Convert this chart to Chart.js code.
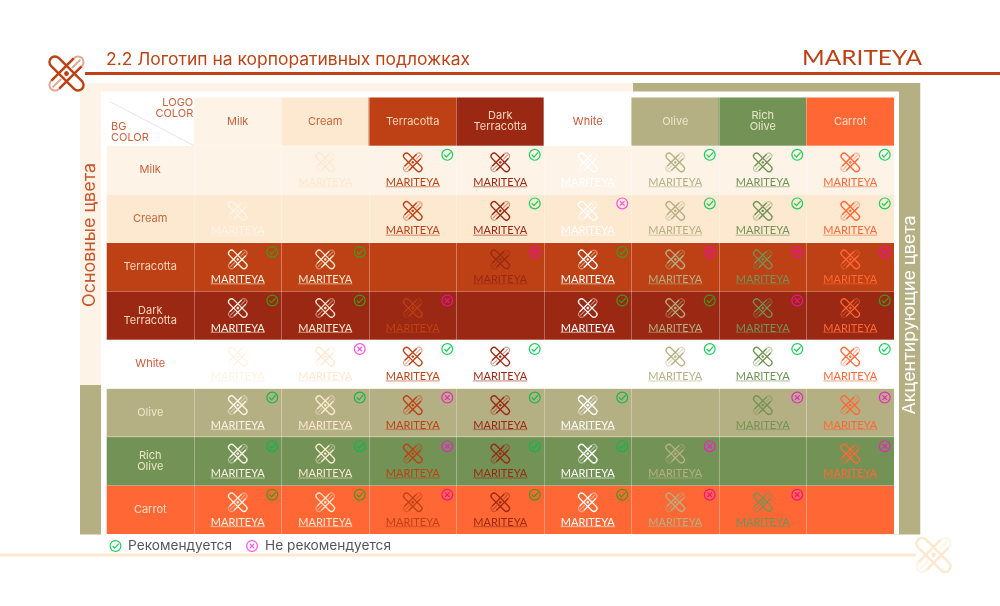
<!DOCTYPE html>
<html>
<head>
<meta charset="utf-8">
<title>Логотип на корпоративных подложках</title>
<script src="https://cdn.jsdelivr.net/npm/chart.js@4"></script>
<style>
    html, body { margin: 0; padding: 0; background: #fff; }
    canvas { display: block; }
</style>
</head>
<body>
<canvas id="myChart" width="1000" height="606"></canvas>
<script>
const colorNames = ['Milk', 'Cream', 'Terracotta', 'Dark Terracotta', 'White', 'Olive', 'Rich Olive', 'Carrot'];
const colorLabels = [['Milk'], ['Cream'], ['Terracotta'], ['Dark', 'Terracotta'], ['White'], ['Olive'], ['Rich', 'Olive'], ['Carrot']];
const cornerTop = ['LOGO', 'COLOR'];
const cornerBottom = ['BG', 'COLOR'];

// every cell has the same weight, one unit of row height
const headerCells = [1, 1, 1, 1, 1, 1, 1, 1, 1];
const rowCells = [1, 1, 1, 1, 1, 1, 1, 1, 1];

// r = recommended, x = not recommended, s = logo without a mark, '' = no logo
const statusMilk = ['', 's', 'r', 'r', 's', 'r', 'r', 'r'];
const statusCream = ['s', '', 's', 'r', 'x', 'r', 'r', 'r'];
const statusTerracotta = ['r', 'r', '', 'x', 'r', 'x', 'x', 'x'];
const statusDark = ['r', 'r', 'x', '', 'r', 'r', 'x', 'r'];
const statusWhite = ['s', 'x', 'r', 'r', '', 'r', 'r', 'r'];
const statusOlive = ['r', 'r', 'x', 'r', 'r', '', 'x', 'x'];
const statusRich = ['r', 'r', 'x', 'r', 'r', 'x', '', 'x'];
const statusCarrot = ['r', 'r', 'x', 'r', 'r', 'x', 'x', ''];
const statusRows = [statusMilk, statusCream, statusTerracotta, statusDark, statusWhite, statusOlive, statusRich, statusCarrot];

const titleText = '2.2 Логотип на корпоративных подложках';
const brandText = 'MARITEYA';
const leftBandText = 'Основные цвета';
const rightBandText = 'Акцентирующие цвета';
const legendYes = 'Рекомендуется';
const legendNo = 'Не рекомендуется';

// styles
const swatches = ['#fdf3e7', '#fde8d0', '#bd4114', '#9a2813', '#ffffff', '#b5b083', '#729355', '#ff6835'];
const labelColors = ['#c9623c', '#c9623c', '#fbd8bd', '#fbd8bd', '#c9593a', '#ece6c8', '#ece6c8', '#ffdcc6'];
const greenOn = ['#16cf5c', '#16cf5c', '#3f9a1c', '#3f9a1c', '#16cf5c', '#10b84c', '#10b84c', '#3f9a1c'];
const pinkOn = ['#ff4fe6', '#ff4fe6', '#f0109a', '#f0109a', '#ff4fe6', '#f020c8', '#f020c8', '#f0109a'];
const uiFont = 'Inter, "Open Sans", sans-serif';
const brandFont = 'Lato, sans-serif';

// squeezes or stretches text to the width it has in the reference
function fitText(ctx, text, x, y, width, font, color, align) {
    ctx.save();
    ctx.font = font;
    ctx.fillStyle = color;
    ctx.textBaseline = 'middle';
    ctx.textAlign = 'left';
    const w = ctx.measureText(text).width;
    const left = align === 'center' ? x - width / 2 : x;
    ctx.translate(left, y);
    ctx.scale(width / w, 1);
    ctx.fillText(text, 0, 0);
    ctx.restore();
}

function drawMark(ctx, cx, cy, h, color) {
    const d = 0.3 * h;
    const L = 1.18 * h;
    ctx.save();
    ctx.translate(cx, cy);
    ctx.rotate(Math.PI / 4);
    ctx.strokeStyle = color;
    ctx.fillStyle = color;
    ctx.lineWidth = h * 0.11;

    // pale arm, north-east to south-west, open at the crossing
    ctx.globalAlpha = 0.45;
    ctx.beginPath();
    ctx.roundRect(-d, -L, 2 * d, 2 * L, d);
    ctx.moveTo(0, -L * 0.9);
    ctx.lineTo(0, -d * 1.4);
    ctx.moveTo(0, d * 1.4);
    ctx.lineTo(0, L * 0.9);
    ctx.stroke();

    // hairpin arm and the crossing strokes
    ctx.globalAlpha = 1;
    ctx.lineWidth = h * 0.13;
    ctx.beginPath();
    ctx.roundRect(-L, -d, 2 * L, 2 * d, d);
    ctx.moveTo(-d, -L * 0.72);
    ctx.lineTo(-d, L * 0.72);
    ctx.moveTo(d, -L * 0.72);
    ctx.lineTo(d, L * 0.72);
    ctx.stroke();

    ctx.beginPath();
    ctx.arc(0, 0, h * 0.13, 0, Math.PI * 2);
    ctx.fill();
    ctx.restore();
}

function drawBadge(ctx, cx, cy, kind, color) {
    ctx.save();
    ctx.strokeStyle = color;
    ctx.lineWidth = 1.2;
    ctx.beginPath();
    ctx.arc(cx, cy, 5.4, 0, Math.PI * 2);
    ctx.stroke();
    ctx.beginPath();
    if (kind === 'r') {
        ctx.moveTo(cx - 3, cy - 0.2);
        ctx.lineTo(cx - 0.8, cy + 2.2);
        ctx.lineTo(cx + 3.4, cy - 2.4);
    } else {
        ctx.moveTo(cx - 2.3, cy - 2.3);
        ctx.lineTo(cx + 2.3, cy + 2.3);
        ctx.moveTo(cx + 2.3, cy - 2.3);
        ctx.lineTo(cx - 2.3, cy + 2.3);
    }
    ctx.stroke();
    ctx.restore();
}

function drawCellLabel(ctx, lines, x, y, color) {
    ctx.save();
    ctx.font = '11px ' + uiFont;
    ctx.fillStyle = color;
    ctx.textAlign = 'center';
    ctx.textBaseline = 'middle';
    lines.forEach((line, i) => {
        ctx.fillText(line, x, y + (i - (lines.length - 1) / 2) * 10.5);
    });
    ctx.restore();
}

// page furniture behind the table
const framePlugin = {
    id: 'frame',
    beforeDraw(chart) {
        const ctx = chart.ctx;
        ctx.save();
        ctx.fillStyle = '#ffffff';
        ctx.fillRect(0, 0, 1000, 606);
        ctx.fillStyle = swatches[0];
        ctx.fillRect(80, 83, 553, 302);
        ctx.fillStyle = swatches[5];
        ctx.fillRect(633, 83, 287.5, 451.5);
        ctx.fillRect(80, 385, 21, 149.5);
        ctx.fillStyle = '#ffffff';
        ctx.fillRect(101, 91.5, 798, 443);
        ctx.fillRect(920.5, 83, 80, 460);

        ctx.fillStyle = swatches[2];
        ctx.fillRect(85, 72, 915, 3);
        ctx.fillStyle = swatches[1];
        ctx.fillRect(0, 553.5, 916, 3);
        ctx.restore();
    }
};

// texts, logos and marks, placed through the chart's scales
const cellsPlugin = {
    id: 'cells',
    afterDraw(chart) {
        const ctx = chart.ctx;
        const xs = chart.scales.x;
        const ys = chart.scales.y;

        fitText(ctx, titleText, 106, 60, 364, '17px ' + uiFont, '#bd4114');
        fitText(ctx, brandText, 802, 58, 120, '21px ' + brandFont, '#bd4114');
        drawMark(ctx, 66.5, 73.5, 18.5, '#bd4114');
        drawMark(ctx, 933.5, 555, 18.5, swatches[1]);

        ctx.save();
        ctx.translate(89.5, 235);
        ctx.rotate(-Math.PI / 2);
        fitText(ctx, leftBandText, 0, 0, 144, '17px ' + uiFont, '#c9562c', 'center');
        ctx.restore();
        ctx.save();
        ctx.translate(909.5, 315);
        ctx.rotate(-Math.PI / 2);
        fitText(ctx, rightBandText, 0, 0, 199, '17px ' + uiFont, '#ffffff', 'center');
        ctx.restore();

        // corner cell
        ctx.save();
        ctx.strokeStyle = '#dddde2';
        ctx.lineWidth = 0.8;
        ctx.beginPath();
        ctx.moveTo(xs.left + 4, ys.top + 5);
        ctx.lineTo(xs.getPixelForValue(0) + 43.7, ys.getPixelForValue(1));
        ctx.stroke();
        ctx.font = '11px ' + uiFont;
        ctx.fillStyle = labelColors[0];
        ctx.textBaseline = 'middle';
        ctx.textAlign = 'right';
        cornerTop.forEach((line, i) => ctx.fillText(line, xs.getPixelForValue(0) + 43, ys.top + 6 + i * 11));
        ctx.textAlign = 'left';
        cornerBottom.forEach((line, i) => ctx.fillText(line, xs.left + 4.5, ys.top + 30 + i * 11));
        ctx.restore();

        colorLabels.forEach((lines, i) => {
            drawCellLabel(ctx, lines, xs.getPixelForValue(i + 1), ys.getPixelForValue(0.5), labelColors[i]);
            drawCellLabel(ctx, lines, xs.getPixelForValue(0), ys.getPixelForValue(i + 1.5), labelColors[i]);
        });

        statusRows.forEach((row, r) => {
            const cy = ys.getPixelForValue(r + 1.5);
            row.forEach((status, c) => {
                if (!status) return;
                const cx = xs.getPixelForValue(c + 1);
                const color = swatches[c];
                drawMark(ctx, cx, cy - 7.5, 10, color);
                fitText(ctx, brandText, cx, cy + 12.5, 54, '11px ' + brandFont, color, 'center');
                ctx.save();
                ctx.globalAlpha = 0.45;
                ctx.fillStyle = color;
                ctx.fillRect(cx - 27, cy + 16.2, 54, 1.3);
                ctx.restore();
                if (status === 'r') drawBadge(ctx, cx + 34.5, cy - 15, 'r', greenOn[r]);
                if (status === 'x') drawBadge(ctx, cx + 34.5, cy - 15, 'x', pinkOn[r]);
            });
        });

        // legend
        drawBadge(ctx, 115.5, 546, 'r', '#16cf5c');
        fitText(ctx, legendYes, 128, 546, 104, '13px ' + uiFont, '#555555');
        drawBadge(ctx, 252, 546, 'x', '#ff4fe6');
        fitText(ctx, legendNo, 265, 546, 126, '13px ' + uiFont, '#555555');
    }
};

const datasets = [{
    label: 'Logo color',
    data: headerCells,
    backgroundColor: ['#ffffff', ...swatches]
}];
colorNames.forEach((name, i) => {
    datasets.push({
        label: name,
        data: rowCells,
        backgroundColor: swatches[i]
    });
});

const gridStyle = {
    offset: true,
    color: 'rgba(255, 255, 255, 0.3)',
    lineWidth: 1,
    z: 1,
    drawTicks: false
};

new Chart(document.getElementById('myChart').getContext('2d'), {
    type: 'bar',
    data: {
        labels: ['', ...colorNames],
        datasets: datasets
    },
    options: {
        responsive: false,
        animation: false,
        devicePixelRatio: 1,
        layout: { padding: { left: 106.5, right: 106, top: 97, bottom: 72 } },
        datasets: { bar: { barPercentage: 1, categoryPercentage: 1 } },
        plugins: {
            legend: { display: false },
            title: { display: false },
            tooltip: { enabled: false }
        },
        scales: {
            x: {
                stacked: true,
                grid: gridStyle,
                border: { display: false },
                ticks: { display: false }
            },
            y: {
                stacked: true,
                reverse: true,
                min: 0,
                max: 9,
                grid: { ...gridStyle, offset: false },
                border: { display: false },
                ticks: { display: false, stepSize: 1 }
            }
        }
    },
    plugins: [framePlugin, cellsPlugin]
});
</script>
</body>
</html>
